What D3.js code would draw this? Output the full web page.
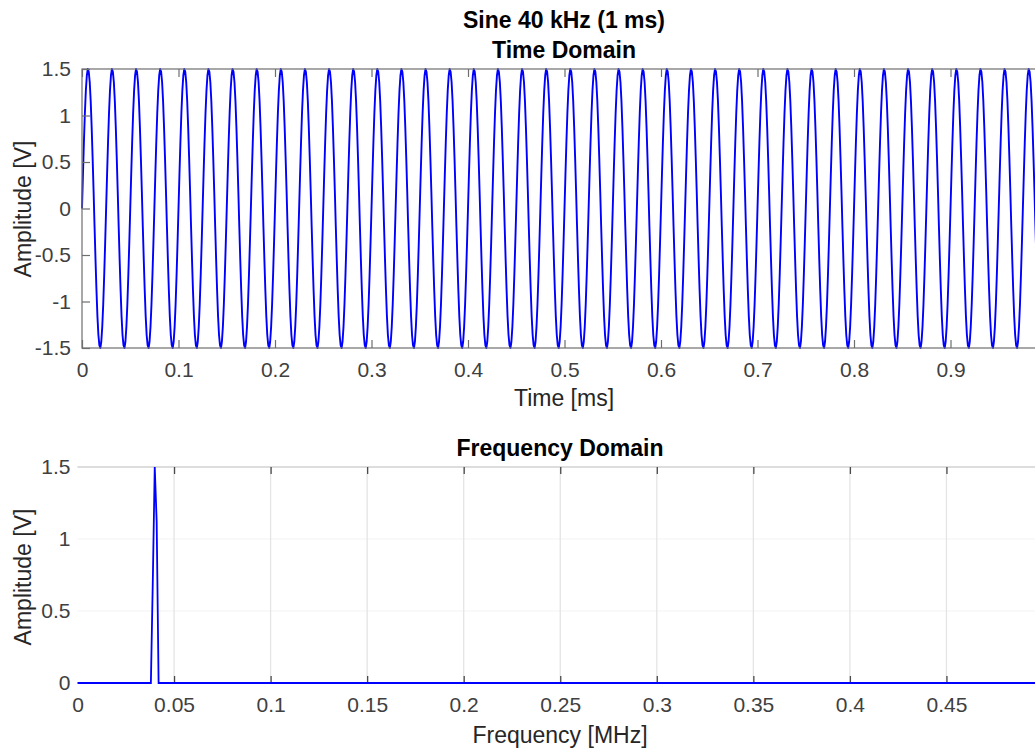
<!DOCTYPE html>
<html>
<head>
<meta charset="utf-8">
<script src="https://cdn.jsdelivr.net/npm/d3@7"></script>
<style>
  html, body { margin: 0; padding: 0; background: #fff; overflow: hidden; }
  svg { display: block; font-family: "Liberation Sans", Arial, Helvetica, sans-serif; }
</style>
</head>
<body>
<svg id="chart" width="1035" height="749"></svg>
<script>
// One period of the sampled 40 kHz sine (fs = 1 MHz -> 25 samples per cycle), volts
const cycleSamplesV = [0, 0.37, 0.72, 1.03, 1.27, 1.43, 1.50, 1.47, 1.36, 1.16, 0.88, 0.55, 0.19,
                       -0.19, -0.55, -0.88, -1.16, -1.36, -1.47, -1.50, -1.43, -1.27, -1.03, -0.72, -0.37];
const cycleCount = 40;          // 40 kHz over 1 ms
const samplePeriodMs = 0.001;   // 1 MHz sampling

// Single-sided amplitude spectrum: the bins around 40 kHz, zero elsewhere
const spectrumFreqMHz = [0, 0.038, 0.039, 0.040, 0.041, 0.042, 0.5];
const spectrumAmpV    = [0, 0,     0.71,  1.5,   1.12,  0,     0];

// Tick labels
const timeTicks    = [0, 0.1, 0.2, 0.3, 0.4, 0.5, 0.6, 0.7, 0.8, 0.9];
const timeAmpTicks = [-1.5, -1, -0.5, 0, 0.5, 1, 1.5];
const freqTicks    = [0, 0.05, 0.1, 0.15, 0.2, 0.25, 0.3, 0.35, 0.4, 0.45];
const freqAmpTicks = [0, 0.5, 1, 1.5];

const svg = d3.select("#chart");
const fmt = d => String(+(+d).toFixed(2));
const tickFont = 21, labelFont = 23, titleFont = 23;
const blue = "#0000ff";

// Time-domain samples: the measured cycle repeated over the record
const timeSeries = [];
for (let c = 0; c < cycleCount; c++) {
  cycleSamplesV.forEach((v, k) => {
    timeSeries.push({ t: (c * cycleSamplesV.length + k) * samplePeriodMs, v });
  });
}
const spectrum = spectrumFreqMHz.map((f, i) => ({ f, a: spectrumAmpV[i] }));

/* ---------------- Time domain ---------------- */
const tx = d3.scaleLinear().domain([0, 1]).range([82, 1047]);
const ty = d3.scaleLinear().domain([-1.5, 1.5]).range([348, 69]);

svg.append("text").attr("x", 564).attr("y", 28).attr("text-anchor", "middle")
  .attr("font-size", titleFont).attr("font-weight", "bold").attr("fill", "#000")
  .text("Sine 40 kHz (1 ms)");
svg.append("text").attr("x", 564).attr("y", 58).attr("text-anchor", "middle")
  .attr("font-size", titleFont).attr("font-weight", "bold").attr("fill", "#000")
  .text("Time Domain");

const timePanel = svg.append("g");

timePanel.append("path")
  .datum(timeSeries)
  .attr("fill", "none")
  .attr("stroke", blue)
  .attr("stroke-width", 1.9)
  .attr("stroke-linejoin", "round")
  .attr("d", d3.line().x(d => tx(d.t)).y(d => ty(d.v)));

// box
timePanel.append("rect")
  .attr("x", tx(0)).attr("y", ty(1.5))
  .attr("width", tx(1) - tx(0)).attr("height", ty(-1.5) - ty(1.5))
  .attr("fill", "none").attr("stroke", "#6e6e6e").attr("stroke-width", 1.2);

function styleAxis(g) {
  g.select(".domain").remove();
  g.selectAll(".tick line").attr("stroke", "#6e6e6e").attr("stroke-width", 1.2);
  g.selectAll(".tick text").attr("fill", "#404040").attr("font-size", tickFont)
    .attr("font-family", "Liberation Sans, Arial, Helvetica, sans-serif");
}

timePanel.append("g").attr("transform", `translate(0,${ty(-1.5)})`)
  .call(d3.axisBottom(tx).tickValues(timeTicks).tickFormat(fmt).tickSize(-8).tickPadding(14))
  .call(styleAxis);
timePanel.append("g").attr("transform", `translate(0,${ty(1.5)})`)
  .call(d3.axisTop(tx).tickValues(timeTicks).tickFormat("").tickSize(-8))
  .call(styleAxis);
timePanel.append("g").attr("transform", `translate(${tx(0)},0)`)
  .call(d3.axisLeft(ty).tickValues(timeAmpTicks).tickFormat(fmt).tickSize(-8).tickPadding(11))
  .call(styleAxis);

svg.append("text").attr("x", 564).attr("y", 406).attr("text-anchor", "middle")
  .attr("font-size", labelFont).attr("fill", "#262626").text("Time [ms]");
svg.append("text").attr("transform", "translate(31,209) rotate(-90)")
  .attr("text-anchor", "middle").attr("font-size", labelFont).attr("fill", "#262626")
  .text("Amplitude [V]");

/* ---------------- Frequency domain ---------------- */
const fx = d3.scaleLinear().domain([0, 0.5]).range([77.5, 1043]);
const fy = d3.scaleLinear().domain([0, 1.5]).range([683, 467]);

svg.append("text").attr("x", 560).attr("y", 456).attr("text-anchor", "middle")
  .attr("font-size", titleFont).attr("font-weight", "bold").attr("fill", "#000")
  .text("Frequency Domain");

const freqPanel = svg.append("g");

// grid
freqPanel.append("g").selectAll("line")
  .data(freqAmpTicks.filter(v => v > 0 && v < 1.5)).join("line")
  .attr("x1", fx(0)).attr("x2", fx(0.5))
  .attr("y1", d => fy(d)).attr("y2", d => fy(d))
  .attr("stroke", "#f3f3f3").attr("stroke-width", 1.2);
freqPanel.append("g").selectAll("line")
  .data(freqTicks.filter(v => v > 0)).join("line")
  .attr("x1", d => fx(d)).attr("x2", d => fx(d))
  .attr("y1", fy(1.5)).attr("y2", fy(0))
  .attr("stroke", "#e4e4e4").attr("stroke-width", 1.3);
freqPanel.append("line")
  .attr("x1", fx(0)).attr("x2", fx(0.5)).attr("y1", fy(1.5)).attr("y2", fy(1.5))
  .attr("stroke", "#d2d2d2").attr("stroke-width", 1.4);

function styleFreqAxis(g) {
  g.select(".domain").remove();
  g.selectAll(".tick line").attr("stroke", "#4a4a4a").attr("stroke-width", 1.3);
  g.selectAll(".tick text").attr("fill", "#404040").attr("font-size", tickFont)
    .attr("font-family", "Liberation Sans, Arial, Helvetica, sans-serif");
}

const fxBottom = freqPanel.append("g").attr("transform", `translate(0,${fy(0)})`)
  .call(d3.axisBottom(fx).tickValues(freqTicks).tickFormat(fmt).tickSize(-7).tickPadding(14))
  .call(styleFreqAxis);
fxBottom.selectAll(".tick").filter(d => d === 0).select("line").remove();
freqPanel.append("g").attr("transform", `translate(0,${fy(1.5)})`)
  .call(d3.axisTop(fx).tickValues(freqTicks.filter(v => v > 0)).tickFormat("").tickSize(-7))
  .call(styleFreqAxis);
freqPanel.append("g").attr("transform", `translate(${fx(0)},0)`)
  .call(d3.axisLeft(fy).tickValues(freqAmpTicks).tickFormat(fmt).tickSize(0).tickPadding(7))
  .call(styleFreqAxis);

freqPanel.append("path")
  .datum(spectrum)
  .attr("fill", "none")
  .attr("stroke", blue)
  .attr("stroke-width", 1.8)
  .attr("d", d3.line().x(d => fx(d.f)).y(d => fy(d.a)));

svg.append("text").attr("x", 560).attr("y", 743).attr("text-anchor", "middle")
  .attr("font-size", labelFont).attr("fill", "#262626").text("Frequency [MHz]");
svg.append("text").attr("transform", "translate(31,577) rotate(-90)")
  .attr("text-anchor", "middle").attr("font-size", labelFont).attr("fill", "#262626")
  .text("Amplitude [V]");
</script>
</body>
</html>
